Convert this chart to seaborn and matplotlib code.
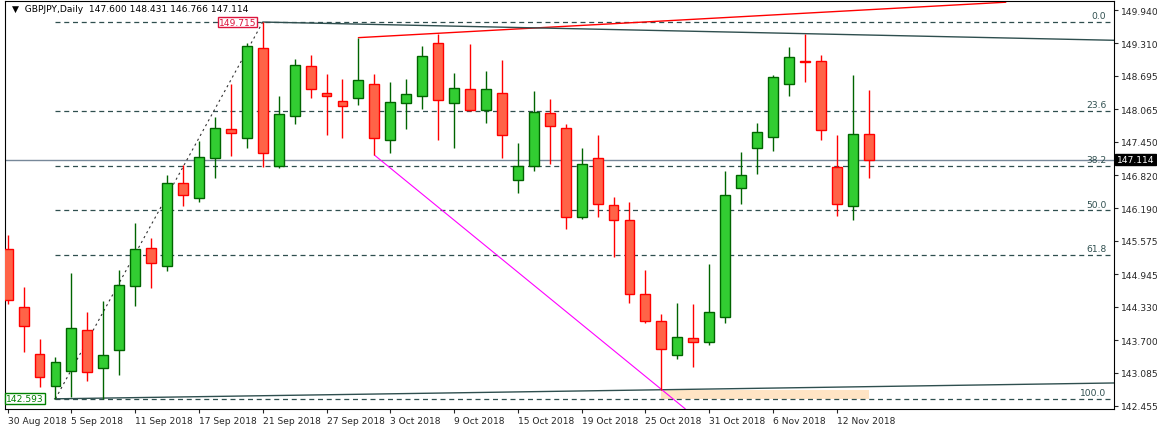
import numpy as np
import pandas as pd
import matplotlib
matplotlib.use("Agg")
import matplotlib.pyplot as plt
import seaborn as sns

dates = ["30 Aug","31 Aug","3 Sep","4 Sep","5 Sep","6 Sep","7 Sep","10 Sep","11 Sep","12 Sep","13 Sep","14 Sep",
         "17 Sep","18 Sep","19 Sep","20 Sep","21 Sep","24 Sep","25 Sep","26 Sep","27 Sep","28 Sep","1 Oct","2 Oct",
         "3 Oct","4 Oct","5 Oct","8 Oct","9 Oct","10 Oct","11 Oct","12 Oct","15 Oct","16 Oct","17 Oct","18 Oct",
         "19 Oct","22 Oct","23 Oct","24 Oct","25 Oct","26 Oct","29 Oct","30 Oct","31 Oct","1 Nov","2 Nov","5 Nov",
         "6 Nov","7 Nov","8 Nov","9 Nov","12 Nov","13 Nov","14 Nov"]
opens = [145.42,144.32,143.43,142.84,143.12,143.89,143.17,143.52,144.72,145.44,145.10,146.68,
         146.38,147.14,147.70,147.53,149.22,147.00,147.93,148.88,148.38,148.23,148.27,148.54,
         147.48,148.18,148.31,149.31,148.18,148.44,148.06,148.38,146.72,146.99,147.99,147.72,
         146.02,147.14,146.25,145.97,144.57,144.06,143.41,143.74,143.66,144.13,146.57,147.33,
         147.55,148.54,148.97,148.97,146.97,146.23,147.600]
highs = [145.69,144.71,143.72,143.38,144.97,144.23,144.44,145.03,145.91,145.64,146.82,147.02,
         147.46,147.91,148.54,149.32,149.71,148.32,149.01,149.09,148.73,148.64,149.42,148.73,
         148.58,148.64,149.26,149.49,148.75,149.30,148.79,149.00,147.43,148.41,148.26,147.78,
         147.33,147.58,146.40,146.32,145.03,144.19,144.40,144.38,145.14,146.90,147.26,147.80,
         148.71,149.24,149.49,149.09,147.58,148.72,148.431]
lows = [144.38,143.48,142.82,142.59,142.63,142.93,142.59,143.05,144.34,144.68,145.00,146.24,
        146.31,146.77,147.19,147.34,146.98,146.95,147.79,148.27,147.58,147.53,148.15,147.20,
        147.24,147.70,148.08,147.49,147.34,148.04,147.81,147.15,146.49,146.89,147.04,145.81,
        146.00,146.03,145.28,144.41,144.02,142.76,143.34,143.20,143.60,144.02,146.28,146.85,
        147.28,148.32,148.59,147.49,146.05,145.98,146.766]
closes = [144.45,143.96,143.00,143.28,143.92,143.10,143.41,144.74,145.42,145.15,146.68,146.44,
          147.17,147.72,147.61,149.27,147.23,147.97,148.91,148.44,148.31,148.12,148.62,147.53,
          148.20,148.35,149.08,148.25,148.46,148.06,148.44,147.57,146.99,148.01,147.74,146.02,
          147.04,146.27,145.98,144.57,144.06,143.53,143.75,143.66,144.23,146.44,146.82,147.63,
          148.67,149.06,148.96,147.67,146.27,147.59,147.114]
tick_idx = [0,4,8,12,16,20,24,28,32,36,40,44,48,52]
tick_lbl = ["30 Aug 2018","5 Sep 2018","11 Sep 2018","17 Sep 2018","21 Sep 2018","27 Sep 2018","3 Oct 2018",
            "9 Oct 2018","15 Oct 2018","19 Oct 2018","25 Oct 2018","31 Oct 2018","6 Nov 2018","12 Nov 2018"]
yticks = [149.940,149.310,148.695,148.065,147.450,146.820,146.190,145.575,144.945,144.330,143.700,143.085,142.455]
fib_hi, fib_lo = 149.715, 142.593
fib_levels = [0.0, 23.6, 38.2, 50.0, 61.8, 100.0]
last_price = 147.114

df = pd.DataFrame(dict(d=dates, o=opens, h=highs, l=lows, c=closes))
df["x"] = np.arange(len(df))
df["up"] = df.c >= df.o

sns.set_style("white")
plt.rcParams['font.family'] = ['DejaVu Sans']
FS = 6.6
fig = plt.figure(figsize=(11.57, 4.31), dpi=100)
ax = fig.add_axes([0.004, 0.049, 0.959, 0.946])

GREEN_F, GREEN_E = "#32cd32", "#006400"
RED_F, RED_E = "#ff6347", "#ff0000"

for lv in fib_levels:
    y = fib_hi - (fib_hi - fib_lo) * lv / 100
    ax.plot([2.94, 69.4], [y, y], ls=(0, (4, 3)), color="#2f4f4f", lw=0.9, zorder=1)
    ax.text(68.9, y + 0.03, f"{lv:.1f}", ha="right", va="bottom", fontsize=FS, color="#2f4f4f")
ax.axhline(last_price, color="#778899", lw=1, zorder=1)

ax.plot([22, 62.6], [149.42, 150.09], color="red", lw=1, zorder=1)
ax.plot([16, 69.4], [149.715, 149.37], color="#2f4f4f", lw=1, zorder=1)
ax.plot([2.94, 69.4], [142.59, 142.89], color="#2f4f4f", lw=1, zorder=1)
ax.plot([23, 42.5], [147.20, 142.40], color="magenta", lw=0.8, zorder=1)
ax.plot([3, 16], [142.593, 149.715], ls=(0, (2, 3)), color="#333333", lw=0.8, zorder=1)
ax.fill_between([41, 54], 142.59, 142.76, color="#ffe4c4", lw=0, zorder=0.5)

for _, r in df.iterrows():
    fc, ec = (GREEN_F, GREEN_E) if r.up else (RED_F, RED_E)
    ax.vlines(r.x, r.l, r.h, color=ec, lw=1, zorder=2)
    lo, hi = min(r.o, r.c), max(r.o, r.c)
    ax.bar(r.x, max(hi - lo, 0.012), bottom=lo, width=0.62, color=fc, edgecolor=ec, lw=1, zorder=3)

ax.text(15.6, fib_hi, "149.715", color="#dc143c", fontsize=FS, ha="right", va="center",
        bbox=dict(boxstyle="square,pad=0.1", fc="white", ec="#dc143c", lw=1), zorder=5)
ax.text(-0.1, fib_lo, "142.593", color="green", fontsize=FS, ha="left", va="center",
        bbox=dict(boxstyle="square,pad=0.1", fc="white", ec="green", lw=1), zorder=5)
ax.text(0.3, 149.97, "▼  GBPJPY,Daily  147.600 148.431 146.766 147.114", fontsize=FS, va="center", color="black")

ax.set_xlim(-0.19, 69.4)
ax.set_ylim(142.40, 150.11)
ax.yaxis.tick_right()
ax.set_yticks(yticks)
ax.set_yticklabels([f"{v:.3f}" for v in yticks], fontsize=FS)
ax.set_xticks(tick_idx)
ax.set_xticklabels(tick_lbl, fontsize=FS, ha="left")
ax.tick_params(axis="both", length=3, width=0.8, direction="out", pad=2, left=False, right=True, bottom=True)
ax.text(69.55, last_price, "147.114", transform=ax.transData, fontsize=FS, color="white", va="center", ha="left",
        bbox=dict(boxstyle="square,pad=0.15", fc="black", ec="black"), zorder=6, clip_on=False)
for s in ax.spines.values():
    s.set_color("black"); s.set_linewidth(0.8)
fig.savefig("out.png", dpi=100)
